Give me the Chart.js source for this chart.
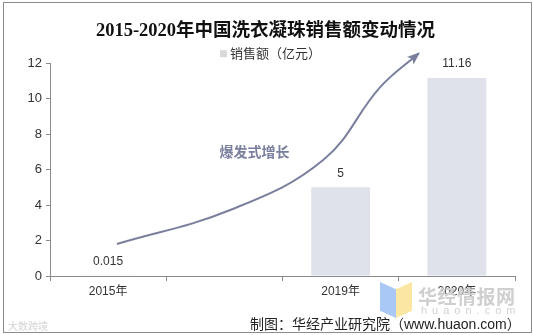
<!DOCTYPE html>
<html>
<head>
<meta charset="utf-8">
<script src="https://cdn.jsdelivr.net/npm/chart.js@4"></script>
<style>
  html, body { margin: 0; padding: 0; background: #fff; }
  #wrap { position: relative; width: 533px; height: 335px; overflow: hidden; }
  #marco { position: absolute; left: 3px; top: 2px; width: 527px; height: 329px; border: 1px solid #8c8c8c; }
  canvas { position: absolute; left: 0; top: 0; }
  .pie { position: absolute; font-family: "Noto Sans CJK SC", sans-serif; }
</style>
</head>
<body>
<div id="wrap">
  <div id="marco"></div>
  <canvas id="grafica" width="533" height="335"></canvas>
  <!-- marca de agua y pie -->
  <div class="pie" style="left:380px;top:282px;width:16px;height:36px;background:#a9c8f5;clip-path:polygon(0 0,100% 20%,100% 100%,0 80%);"></div>
  <div class="pie" style="left:396px;top:282px;width:16px;height:36px;background:#fbe7a2;clip-path:polygon(0 20%,100% 0,100% 80%,0 100%);"></div>
  <div class="pie" style="left:418px;top:282px;font-size:19px;font-weight:bold;color:#cfcfcf;letter-spacing:0.5px;">华经情报网</div>
  <div class="pie" style="left:421px;top:304px;font-size:11px;color:#d2d2d2;letter-spacing:5px;font-family:'Liberation Sans',sans-serif;">huaon.com</div>
  <div class="pie" style="left:250px;top:313px;font-size:14px;color:#222;white-space:nowrap;">制图：华经产业研究院（<span style="font-family:'Liberation Sans',sans-serif">www.huaon.com</span>）</div>
  <div class="pie" style="left:8px;top:318px;font-size:10px;color:#d4d4d4;white-space:nowrap;">大数跨境</div>
</div>
<script>
// Datos
const categorias = ['2015年', '', '2019年', '2020年'];
const ventas = [0.015, null, 5, 11.16];
const etiquetasY = [0, 2, 4, 6, 8, 10, 12];
const nombreSerie = '销售额（亿元）';

// Flecha "爆发式增长" (x en índice de categoría, y en valor)
const flechaX = [0.075, 1.05, 1.85, 2.34, 2.67];
const flechaY = [1.8, 3.72, 6.54, 10.65, 12.55];
const textoFlecha = { texto: '爆发式增长', x: 1.26, y: 7.0 };

const COLOR_BARRA = '#dfe2ea';
const COLOR_FLECHA = '#7a7f9e';
const COLOR_EJE = '#8a8a8a';

// Etiquetas sobre las barras + leyenda
const pluginEtiquetas = {
  id: 'etiquetas',
  afterDatasetsDraw(chart) {
    const ctx = chart.ctx;
    const meta = chart.getDatasetMeta(0);
    ctx.save();
    ctx.font = '12px "Liberation Sans", Arial, sans-serif';
    ctx.fillStyle = '#333';
    ctx.textAlign = 'center';
    ctx.textBaseline = 'middle';
    meta.data.forEach((barra, i) => {
      if (ventas[i] === null) return;
      ctx.fillText(String(ventas[i]), barra.x, barra.y - 14);
    });

    // leyenda (una sola serie)
    ctx.font = '13px "Noto Sans CJK SC", sans-serif';
    const ancho = ctx.measureText(nombreSerie).width;
    const yLeyenda = chart.chartArea.top - 10;
    const x0 = chart.width / 2 - (ancho + 10) / 2 + 4;
    ctx.fillStyle = '#d9d9d9';
    ctx.fillRect(x0, yLeyenda - 3, 7, 7);
    ctx.fillStyle = '#333';
    ctx.textAlign = 'left';
    ctx.fillText(nombreSerie, x0 + 10, yLeyenda);
    ctx.restore();
  }
};

// Punta de flecha y texto
const pluginFlecha = {
  id: 'flecha',
  afterDatasetsDraw(chart) {
    const ctx = chart.ctx;
    const pts = chart.getDatasetMeta(1).data;
    const b = pts[pts.length - 1];
    // dirección según el punto de control de la curva
    const cx = b.cp1x !== undefined ? b.cp1x : pts[pts.length - 2].x;
    const cy = b.cp1y !== undefined ? b.cp1y : pts[pts.length - 2].y;
    const ang = Math.atan2(b.y - cy, b.x - cx);
    ctx.save();
    ctx.fillStyle = COLOR_FLECHA;
    ctx.translate(b.x, b.y);
    ctx.rotate(ang);
    ctx.beginPath();
    ctx.moveTo(2, 0);
    ctx.lineTo(-11, -5);
    ctx.lineTo(-8, 0);
    ctx.lineTo(-11, 5);
    ctx.closePath();
    ctx.fill();
    ctx.restore();

    const sx = chart.scales.xa, sy = chart.scales.y;
    ctx.save();
    ctx.font = 'bold 14px "Noto Sans CJK SC", sans-serif';
    ctx.fillStyle = COLOR_FLECHA;
    ctx.textAlign = 'center';
    ctx.textBaseline = 'middle';
    ctx.fillText(textoFlecha.texto, sx.getPixelForValue(textoFlecha.x), sy.getPixelForValue(textoFlecha.y));
    ctx.restore();
  }
};

new Chart(document.getElementById('grafica'), {
  type: 'bar',
  data: {
    labels: categorias,
    datasets: [
      {
        type: 'bar',
        label: nombreSerie,
        data: ventas,
        backgroundColor: COLOR_BARRA,
        barPercentage: 0.506,
        categoryPercentage: 1,
        grouped: false,
        order: 2
      },
      {
        type: 'line',
        label: 'flecha',
        xAxisID: 'xa',
        data: flechaX.map((x, i) => ({ x: x, y: flechaY[i] })),
        borderColor: COLOR_FLECHA,
        borderWidth: 2,
        pointRadius: 0,
        tension: 0.4,
        clip: false,
        order: 1
      }
    ]
  },
  options: {
    responsive: false,
    animation: false,
    layout: { padding: { left: 16, right: 18, top: 18, bottom: 35 } },
    plugins: {
      title: {
        display: true,
        text: '2015-2020年中国洗衣凝珠销售额变动情况',
        color: '#111',
        font: { family: '"Liberation Serif", "Noto Sans CJK SC", serif', size: 18.5, weight: 'bold' },
        padding: { top: 2, bottom: 21 }
      },
      legend: { display: false },
      tooltip: { enabled: false }
    },
    scales: {
      x: {
        type: 'category',
        offset: true,
        grid: { display: true, drawOnChartArea: false, offset: true, tickLength: 5, color: COLOR_EJE },
        border: { color: COLOR_EJE },
        ticks: { color: '#333', font: { family: '"Liberation Sans", "Noto Sans CJK SC", sans-serif', size: 12 }, padding: 3, maxRotation: 0 },
        afterFit: s => { s.height = 24; }
      },
      xa: { type: 'linear', min: -0.5, max: 3.5, offset: false, display: false },
      y: {
        min: 0,
        max: 12,
        afterBuildTicks: s => { s.ticks = etiquetasY.map(v => ({ value: v })); },
        grid: { display: true, drawOnChartArea: false, tickLength: 4, color: COLOR_EJE },
        border: { color: COLOR_EJE },
        ticks: { color: '#333', font: { family: '"Liberation Sans", Arial, sans-serif', size: 13 }, padding: 4 },
        afterFit: s => { s.width = 34; }
      }
    }
  },
  plugins: [pluginEtiquetas, pluginFlecha]
});
</script>
</body>
</html>
